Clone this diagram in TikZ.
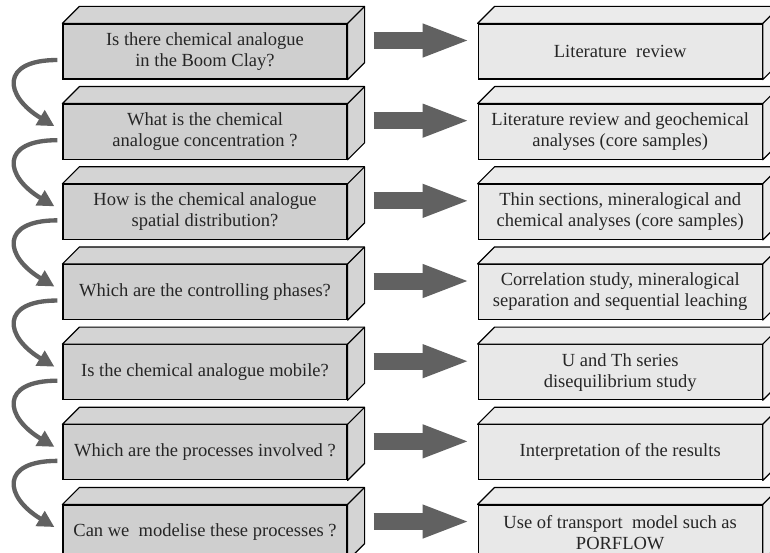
\documentclass[tikz,border=0pt]{standalone}
\usepackage{fontspec}
\setmainfont{Liberation Serif}
\usepackage{xcolor}
\usetikzlibrary{positioning,arrows.meta}

\tikzset{
    facebox/.style={draw, line width=1pt, minimum width=8.52cm, minimum height=1.65cm, inner sep=0pt,
        align=center, font=\fontsize{15.8}{18}\selectfont, text=black!85},
    askbox/.style={facebox, fill=gray!38},
    findbox/.style={facebox, fill=gray!18},
    flowarrow/.style={line width=0.51cm, draw=black!62, -{Triangle[length=1.44cm,width=0.9cm]},
        shorten <=0.78cm, shorten >=0.21cm},
    turnarrow/.style={line width=1.3mm, draw=black!62, -{Triangle[length=0.5cm,width=0.5cm]}},
}

\begin{document}
\begin{tikzpicture}[x=0.03cm, y=0.03cm]
        \useasboundingbox (0, 0) rectangle (770, 553);
        \clip (0, 0) rectangle (770, 553);

        % questions
        \node[askbox] (q1) at (205, 501.5) {Is there chemical analogue\\in the Boom Clay?};
        \node[askbox, below=0.72cm of q1] (q2) {What is the chemical\\analogue concentration ?};
        \node[askbox, below=0.72cm of q2] (q3) {How is the chemical analogue\\spatial distribution?};
        \node[askbox, below=0.72cm of q3] (q4) {Which are the controlling phases?};
        \node[askbox, below=0.72cm of q4] (q5) {Is the chemical analogue mobile?};
        \node[askbox, below=0.72cm of q5] (q6) {Which are the processes involved ?};
        \node[askbox, below=0.72cm of q6] (q7) {Can we\ \ modelise these processes ?};

        % methods
        \node[findbox, right=3.9cm of q1] (a1) {Literature\ \ review};
        \node[findbox, right=3.9cm of q2] (a2) {Literature review and geochemical\\analyses (core samples)};
        \node[findbox, right=3.9cm of q3] (a3) {Thin sections, mineralogical and\\chemical analyses (core samples)};
        \node[findbox, right=3.9cm of q4] (a4) {Correlation study, mineralogical\\separation and sequential leaching};
        \node[findbox, right=3.9cm of q5] (a5) {U and Th series\\disequilibrium study};
        \node[findbox, right=3.9cm of q6] (a6) {Interpretation of the results};
        \node[findbox, right=3.9cm of q7] (a7) {Use of transport\ \ model such as\\PORFLOW};

        % top and side faces
        \foreach \n/\c in {q/gray!34, a/gray!16} {
            \foreach \i in {1,...,7} {
                \filldraw[fill=\c, line width=1pt, line join=round] (\n\i.north west) -- ++(17, 17)
                    -- ([shift={(17, 17)}]\n\i.north east) -- ([shift={(17, 17)}]\n\i.south east)
                    -- (\n\i.south east) -- (\n\i.north east) -- cycle;
                \draw[line width=1pt] (\n\i.north east) -- ++(17, 17);
            }
        }

        % straight arrows
        \foreach \i in {1,...,7} {
            \draw[flowarrow] ([yshift=0.33cm]q\i.east) -- ([yshift=0.33cm]a\i.west);
        }

        % curved arrows
        \foreach \i/\j in {1/2, 2/3, 3/4, 4/5, 5/6, 6/7} {
            \draw[turnarrow] ([shift={(-5, -8.5)}]q\i.west)
                .. controls ([shift={(-63, -8.5)}]q\i.west) and ([shift={(-58, 35.5)}]q\j.west)
                .. ([shift={(-8, 5.5)}]q\j.west);
        }
    \end{tikzpicture}
\end{document}
